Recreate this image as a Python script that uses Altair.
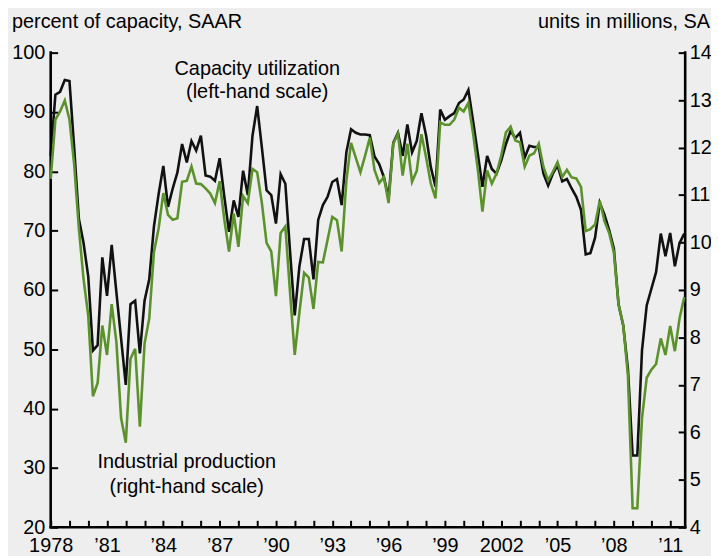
import altair as alt
import pandas as pd

# ---------------- data (quarterly, 1978Q1 .. 2011Q4) ----------------
start_year = 1978

capacity_utilization = [
    82.6, 92.9, 93.4, 95.4,   # 1978
    95.2, 84.0, 72.0, 67.9,   # 1979
    62.3, 49.8, 50.7, 65.5,   # 1980
    59.0, 67.6, 59.6, 51.8,   # 1981
    44.0, 57.6, 58.2, 49.3,   # 1982
    58.2, 61.8, 70.7, 76.2,   # 1983
    80.9, 74.0, 77.1, 79.8,   # 1984
    84.6, 81.5, 85.1, 83.5,   # 1985
    86.0, 79.3, 79.1, 78.4,   # 1986
    82.2, 75.7, 69.8, 75.1,   # 1987
    72.3, 80.1, 76.0, 86.0,   # 1988
    91.0, 84.0, 76.8, 76.0,   # 1989
    71.2, 79.5, 77.9, 66.5,   # 1990
    55.7, 64.0, 68.6, 68.6,   # 1991
    61.8, 71.8, 74.3, 75.7,   # 1992
    78.2, 78.7, 74.3, 83.2,   # 1993
    87.1, 86.5, 86.2, 86.2,   # 1994
    86.1, 82.5, 81.2, 79.0,   # 1995
    75.5, 84.8, 86.5, 82.6,   # 1996
    87.9, 83.2, 85.1, 89.8,   # 1997
    86.0, 80.7, 77.4, 90.4,   # 1998
    88.7, 89.3, 89.8, 91.5,   # 1999
    92.1, 93.7, 88.5, 83.0,   # 2000
    77.4, 82.6, 80.4, 79.6,   # 2001
    81.8, 84.6, 86.8, 85.6,   # 2002
    86.5, 82.3, 84.3, 84.1,   # 2003
    84.1, 79.6, 77.6, 79.6,   # 2004
    81.0, 78.3, 78.7, 77.1,   # 2005
    75.7, 73.5, 66.0, 66.2,   # 2006
    68.8, 74.7, 72.7, 70.1,   # 2007
    67.0, 57.6, 54.0, 46.7,   # 2008
    32.1, 32.1, 49.8, 57.4,   # 2009
    60.2, 63.0, 69.5, 65.7,   # 2010
    69.6, 64.0, 67.9, 69.5,   # 2011
]

industrial_production = [
    11.34, 12.59, 12.76, 12.99,   # 1978
    12.59, 11.65, 10.30, 9.23,    # 1979
    8.46, 6.76, 7.04, 8.25,       # 1980
    7.63, 8.70, 7.90, 6.30,       # 1981
    5.78, 7.55, 7.76, 6.12,       # 1982
    7.87, 8.40, 9.80, 10.30,      # 1983
    11.04, 10.58, 10.48, 10.51,   # 1984
    11.28, 11.30, 11.60, 11.24,   # 1985
    11.23, 11.14, 11.03, 10.83,   # 1986
    11.29, 10.48, 9.81, 10.61,    # 1987
    9.91, 10.98, 10.83, 11.55,    # 1988
    11.48, 10.83, 9.99, 9.81,     # 1989
    8.87, 10.20, 10.34, 8.95,     # 1990
    7.63, 8.53, 9.36, 9.26,       # 1991
    8.60, 9.59, 9.58, 10.06,      # 1992
    10.54, 10.47, 9.81, 11.30,    # 1993
    12.10, 11.79, 11.48, 11.83,   # 1994
    12.21, 11.53, 11.25, 11.38,   # 1995
    10.83, 12.08, 12.29, 11.41,   # 1996
    12.08, 11.28, 11.51, 12.28,   # 1997
    11.79, 11.24, 10.93, 12.53,   # 1998
    12.48, 12.48, 12.59, 12.84,   # 1999
    12.76, 12.94, 12.30, 11.55,   # 2000
    10.65, 11.52, 11.24, 11.45,   # 2001
    11.83, 12.32, 12.44, 12.15,   # 2002
    12.11, 11.60, 11.83, 11.88,   # 2003
    12.08, 11.59, 11.31, 11.49,   # 2004
    11.69, 11.38, 11.53, 11.37,   # 2005
    11.35, 11.17, 10.24, 10.28,   # 2006
    10.38, 10.88, 10.45, 10.20,   # 2007
    9.79, 8.70, 8.26, 7.20,       # 2008
    4.40, 4.40, 6.30, 7.15,       # 2009
    7.32, 7.44, 7.98, 7.63,       # 2010
    8.24, 7.71, 8.40, 8.85,       # 2011
]

tick_years = list(range(1978, 2012))
label_years = [1978, 1981, 1984, 1987, 1990, 1993, 1996, 1999, 2002, 2005, 2008, 2011]
label_texts = ["1978", "\u201981", "\u201984", "\u201987", "\u201990", "\u201993",
               "\u201996", "\u201999", "2002", "\u201905", "\u201908", "\u201911"]
left_ticks = [20, 30, 40, 50, 60, 70, 80, 90, 100]
right_ticks = [4, 5, 6, 7, 8, 9, 10, 11, 12, 13, 14]

x_domain = [1978, 2011.8]
left_domain = [20, 100]
right_domain = [4, 14]

# ---------------- build table ----------------
n = len(capacity_utilization)
df = pd.DataFrame({
    "t": [start_year + i / 4 for i in range(n)],
    "cap": capacity_utilization,
    "ip": industrial_production,
})
one = pd.DataFrame({"k": [0]})

FONT = "Liberation Sans"
FS = 20
TICK = 7
AXW = 2.6
W, H = 639, 478

expr = "''"
for yv, s in reversed(list(zip(label_years, label_texts))):
    expr = f"datum.value == {yv} ? '{s}' : ({expr})"

x_scale = alt.Scale(domain=x_domain, nice=False, zero=False)
left_scale = alt.Scale(domain=left_domain, nice=False, zero=False)
right_scale = alt.Scale(domain=right_domain, nice=False, zero=False)

x_axis = alt.Axis(
    values=tick_years, labelExpr=expr, title=None, grid=False, domain=False,
    tickSize=TICK, offset=-TICK, tickColor="black", tickWidth=2,
    labelFont=FONT, labelFontSize=FS, labelColor="black", labelPadding=8,
    labelFlush=False, labelOverlap=False, labelBound=False,
)
x_enc = alt.X("t:Q", scale=x_scale, axis=x_axis)

black = alt.Chart(df).mark_line(color="#111111", strokeWidth=2.6).encode(
    x=x_enc,
    y=alt.Y(
        "cap:Q",
        scale=left_scale,
        axis=alt.Axis(
            values=left_ticks, title=None, grid=False, domain=False,
            tickSize=TICK, offset=-TICK, tickColor="black", tickWidth=2,
            labelFont=FONT, labelFontSize=FS, labelColor="black", labelPadding=6,
            labelFlush=False, labelOverlap=False,
        ),
    ),
)

green = alt.Chart(df).mark_line(color="#5c922c", strokeWidth=2.6).encode(
    x=x_enc,
    y=alt.Y(
        "ip:Q",
        scale=right_scale,
        axis=alt.Axis(
            orient="right", values=right_ticks, title=None, grid=False, domain=False,
            tickSize=TICK, offset=-TICK, tickColor="black", tickWidth=2,
            labelFont=FONT, labelFontSize=FS, labelColor="black", labelPadding=4,
            labelFlush=False, labelOverlap=False,
        ),
    ),
)

# frame lines (left, right, bottom) of the plot area
rule_style = dict(color="black", strokeWidth=AXW, strokeCap="square")
left_line = alt.Chart(one).mark_rule(**rule_style).encode(
    x=alt.value(0), y=alt.value(0), y2=alt.value(H))
right_line = alt.Chart(one).mark_rule(**rule_style).encode(
    x=alt.value(W), y=alt.value(0), y2=alt.value(H))
bottom_line = alt.Chart(one).mark_rule(**rule_style).encode(
    x=alt.value(0), x2=alt.value(W), y=alt.value(H))


def label(txt, px, py, align):
    return alt.Chart(one).mark_text(
        text=txt, align=align, baseline="middle", font=FONT, fontSize=FS, color="black"
    ).encode(x=alt.value(px), y=alt.value(py))


texts = [
    label("percent of capacity, SAAR", -39, -31, "left"),
    label("units in millions, SA", 664, -31, "right"),
    label("Capacity utilization", 208, 17, "center"),
    label("(left-hand scale)", 208, 40, "center"),
    label("Industrial production", 137, 412, "center"),
    label("(right-hand scale)", 137, 437, "center"),
]

left_group = alt.layer(black, left_line, right_line, bottom_line, *texts)

chart = (
    alt.layer(left_group, green)
    .resolve_scale(y="independent")
    .properties(
        width=W, height=H,
        autosize=alt.AutoSizeParams(type="none"),
        padding={"left": 43, "top": 43, "right": 26, "bottom": 30},
        background="#eeeeee",
    )
    .configure_view(stroke=None)
    .configure_axis(labelOverlap=False)
)

chart.save("out.html", embed_options={"renderer": "svg", "actions": False})
